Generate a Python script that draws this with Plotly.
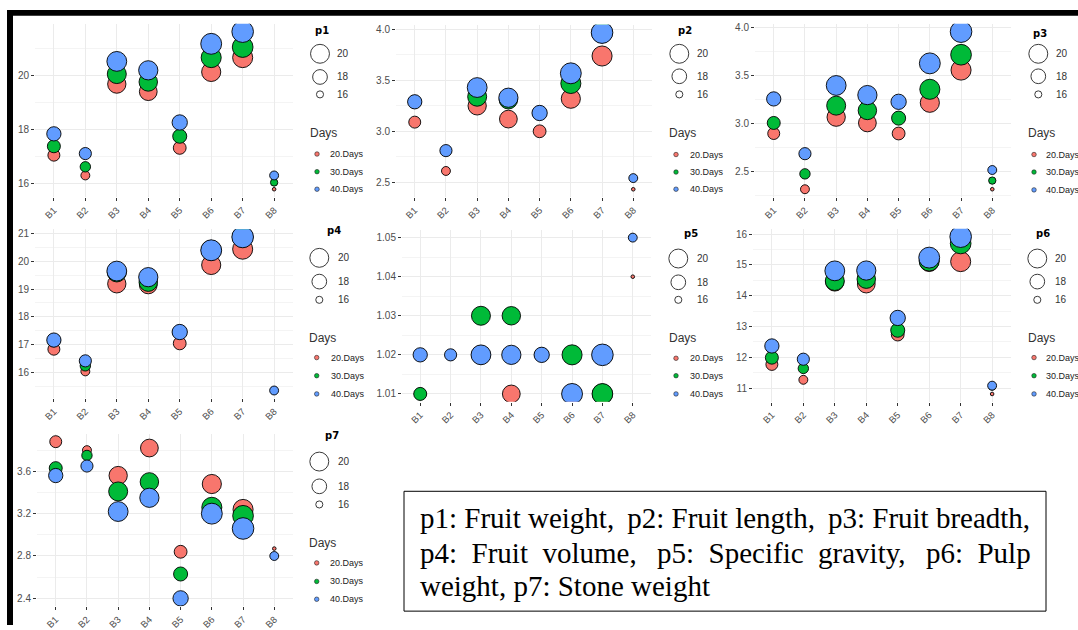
import numpy as np
import plotly.graph_objects as go

W, H = 1078, 630

categories = ["B1", "B2", "B3", "B4", "B5", "B6", "B7", "B8"]
day_labels = ["20.Days", "30.Days", "40.Days"]
day_colors = ["#F8766D", "#00BA38", "#619CFF"]
size_breaks = [20, 18, 16]
panel_names = ["p1", "p2", "p3", "p4", "p5", "p6", "p7"]

# p1: Fruit weight
p1_d20 = [17.04, 16.29, 19.67, 19.39, 17.31, 20.12, 20.65, 15.78]
p1_d30 = [17.37, 16.61, 20.04, 19.75, 17.74, 20.65, 21.04, 16.03]
p1_d40 = [17.83, 17.10, 20.51, 20.18, 18.25, 21.16, 21.61, 16.29]
# p2: Fruit length
p2_d20 = [3.09, 2.61, 3.25, 3.12, 3.00, 3.32, 3.74, 2.43]
p2_d30 = [3.29, 2.81, 3.34, 3.31, 3.18, 3.47, 3.97, 2.54]
p2_d40 = [3.29, 2.81, 3.43, 3.33, 3.18, 3.57, 3.97, 2.54]
# p3: Fruit breadth
p3_d20 = [2.90, 2.32, 3.07, 3.01, 2.90, 3.22, 3.56, 2.32]
p3_d30 = [3.01, 2.48, 3.19, 3.14, 3.06, 3.36, 3.72, 2.41]
p3_d40 = [3.26, 2.69, 3.40, 3.30, 3.23, 3.63, 3.96, 2.52]
# p4: Fruit volume
p4_d20 = [16.83, 16.03, 19.19, 19.15, 17.04, 19.87, 20.44, 15.34]
p4_d30 = [17.15, 16.23, 19.60, 19.25, 17.45, 20.40, 20.88, 15.34]
p4_d40 = [17.16, 16.41, 19.65, 19.43, 17.45, 20.40, 20.88, 15.34]
# p5: Specific gravity
p5_d20 = [1.01, 1.02, 1.02, 1.01, 1.02, 1.01, 1.01, 1.04]
p5_d30 = [1.01, 1.02, 1.03, 1.03, 1.02, 1.02, 1.01, 1.05]
p5_d40 = [1.02, 1.02, 1.02, 1.02, 1.02, 1.01, 1.02, 1.05]
# p6: Pulp weight
p6_d20 = [11.77, 11.27, 14.45, 14.38, 12.74, 15.10, 15.11, 10.81]
p6_d30 = [11.99, 11.64, 14.48, 14.54, 12.88, 15.13, 15.70, 11.05]
p6_d40 = [12.37, 11.94, 14.81, 14.82, 13.28, 15.24, 15.92, 11.08]
# p7: Stone weight
p7_d20 = [3.88, 3.80, 3.56, 3.82, 2.84, 3.48, 3.24, 2.87]
p7_d30 = [3.63, 3.75, 3.41, 3.50, 2.63, 3.26, 3.18, 2.80]
p7_d40 = [3.56, 3.65, 3.22, 3.35, 2.40, 3.20, 3.06, 2.80]

caption_lines = [
    "p1: Fruit weight,\u2009 p2: Fruit length,\u2009 p3: Fruit breadth,",
    "p4:\u00a0 Fruit\u00a0 volume,\u00a0\u2009 p5:\u00a0 Specific\u00a0 gravity,\u00a0\u2009 p6:\u00a0 Pulp",
    "weight, p7: Stone weight",
]

panels = {
    "p1": [p1_d20, p1_d30, p1_d40],
    "p2": [p2_d20, p2_d30, p2_d40],
    "p3": [p3_d20, p3_d30, p3_d40],
    "p4": [p4_d20, p4_d30, p4_d40],
    "p5": [p5_d20, p5_d30, p5_d40],
    "p6": [p6_d20, p6_d30, p6_d40],
    "p7": [p7_d20, p7_d30, p7_d40],
}

# bubble size is mapped to fruit weight (p1) in every panel, ggplot-like area scale
size_src = np.array(panels["p1"], dtype=float)
smin, smax = size_src.min(), size_src.max()


def size_px(v):
    r = np.clip((np.asarray(v, dtype=float) - smin) / (smax - smin), 0, 1)
    return 3.6 * (1 + 5 * np.sqrt(r))


def px(x):
    return x / W


def py(y):
    return 1 - y / H


# panel boxes in pixels: left, right, top, bottom
boxes = {
    "p1": (35, 293, 23, 198),
    "p2": (396, 652, 24, 198),
    "p3": (755, 1011, 23, 198),
    "p4": (35, 293, 230.5, 401),
    "p5": (402, 651, 231, 404.6),
    "p6": (753, 1011, 230, 404.7),
    "p7": (37, 293, 437, 611),
}
# major dtick, minor dtick, format
tick_cfg = {
    "p1": (2, 1, ".0f"),
    "p2": (0.5, 0.25, ".1f"),
    "p3": (0.5, 0.25, ".1f"),
    "p4": (1, 0.5, ".0f"),
    "p5": (0.01, 0.005, ".2f"),
    "p6": (1, 0.5, ".0f"),
    "p7": (0.4, 0.2, ".1f"),
}

legend_pos = {
    "p1": dict(title=(313, 29.5), cx=320, cy=(53.3, 76.7, 94.3), lx=335, days=(308, 133.3), dx=317, dy=(154.5, 172.3, 190), dlx=328),
    "p2": dict(title=(676, 30), cx=679.3, cy=(53.3, 76, 94.3), lx=695, days=(667, 133.3), dx=676, dy=(155, 172.7, 190), dlx=688),
    "p3": dict(title=(1030.7, 32.7), cx=1038.3, cy=(53.3, 76, 94.3), lx=1054, days=(1026, 133.3), dx=1034, dy=(155, 172.7, 190.7), dlx=1044),
    "p4": dict(title=(325, 231.7), cx=319.3, cy=(259.3, 283.3, 301.7), lx=336, days=(307.3, 340.7), dx=316.7, dy=(360, 378.3, 396.7), dlx=329.3),
    "p5": dict(title=(681.7, 235), cx=678.3, cy=(260, 284, 301.7), lx=695, days=(666.7, 340.7), dx=676, dy=(360.7, 378.3, 396.7), dlx=688.3),
    "p6": dict(title=(1034, 235), cx=1037.3, cy=(260, 283.3, 301.7), lx=1053.3, days=(1026, 340), dx=1034, dy=(360, 378.3, 396.7), dlx=1044),
    "p7": dict(title=(323.3, 438.3), cx=319.3, cy=(465, 490, 508.3), lx=336, days=(307.3, 547.3), dx=316.7, dy=(567.3, 586, 604), dlx=328.3),
}

GRID = "#ebebeb"
MINOR = "#f4f4f4"
TXT = "#4d4d4d"
FONT = "Liberation Sans, Arial, sans-serif"

fig = go.Figure()
layout = dict(
    width=W, height=H, margin=dict(l=0, r=0, t=0, b=0),
    paper_bgcolor="white", plot_bgcolor="white", showlegend=False,
    font=dict(family=FONT, color=TXT),
)
shapes = []
annotations = []

for i, name in enumerate(panel_names):
    k = "" if i == 0 else str(i + 1)
    l, r, t, b = boxes[name]
    vals = np.array(panels[name], dtype=float)
    lo, hi = vals.min(), vals.max()
    pad = 0.05 * (hi - lo)
    major, minor, fmt = tick_cfg[name]
    layout[f"xaxis{k}"] = dict(
        domain=[px(l), px(r)], anchor=f"y{k}", type="category",
        categoryorder="array", categoryarray=categories, range=[-0.6, 7.6],
        showgrid=True, gridcolor=GRID, gridwidth=1.1, zeroline=False, showline=False,
        ticks="outside", ticklen=3, tickwidth=1, tickcolor="#333333",
        tickangle=-45, tickfont=dict(size=9.5, color=TXT), fixedrange=True,
    )
    layout[f"yaxis{k}"] = dict(
        domain=[py(b), py(t)], anchor=f"x{k}", range=[lo - pad, hi + pad],
        tick0=0, dtick=major, tickformat=fmt,
        showgrid=True, gridcolor=GRID, gridwidth=1.1, zeroline=False, showline=False,
        ticks="outside", ticklen=3, tickwidth=1, tickcolor="#333333",
        tickfont=dict(size=10, color=TXT), fixedrange=True,
        minor=dict(tick0=0, dtick=minor, showgrid=True, gridcolor=MINOR, gridwidth=0.7, ticks=""),
    )
    for j in range(3):
        fig.add_trace(go.Scatter(
            x=categories, y=panels[name][j], mode="markers",
            xaxis=f"x{k}", yaxis=f"y{k}", name=day_labels[j],
            marker=dict(size=size_px(panels["p1"][j]), color=day_colors[j],
                        line=dict(color="black", width=0.9), opacity=1),
            showlegend=False,
        ))

    # legend drawn with shapes + annotations
    lp = legend_pos[name]
    annotations.append(dict(
        text=f"<b>{name}</b>", x=px(lp["title"][0]), y=py(lp["title"][1]),
        xref="paper", yref="paper", xanchor="left", yanchor="middle", showarrow=False,
        font=dict(size=10, color="black", family="DejaVu Sans, sans-serif"),
    ))
    for sb, cyv in zip(size_breaks, lp["cy"]):
        d = float(size_px(sb))
        shapes.append(dict(
            type="circle", xref="paper", yref="paper", xsizemode="pixel", ysizemode="pixel",
            xanchor=px(lp["cx"]), yanchor=py(cyv), x0=-d / 2, x1=d / 2, y0=-d / 2, y1=d / 2,
            line=dict(color="#3a3a3a", width=1), fillcolor="white",
        ))
        annotations.append(dict(
            text=str(sb), x=px(lp["lx"]), y=py(cyv), xref="paper", yref="paper",
            xanchor="left", yanchor="middle", showarrow=False,
            font=dict(size=10, color="#333333"),
        ))
    annotations.append(dict(
        text="Days", x=px(lp["days"][0]), y=py(lp["days"][1]), xref="paper", yref="paper",
        xanchor="left", yanchor="middle", showarrow=False,
        font=dict(size=12, color="#333333"),
    ))
    for lab, col, dyv in zip(day_labels, day_colors, lp["dy"]):
        d = 4.5
        shapes.append(dict(
            type="circle", xref="paper", yref="paper", xsizemode="pixel", ysizemode="pixel",
            xanchor=px(lp["dx"]), yanchor=py(dyv), x0=-d / 2, x1=d / 2, y0=-d / 2, y1=d / 2,
            line=dict(color="#222222", width=0.6), fillcolor=col,
        ))
        annotations.append(dict(
            text=lab, x=px(lp["dlx"]), y=py(dyv), xref="paper", yref="paper",
            xanchor="left", yanchor="middle", showarrow=False,
            font=dict(size=9, color="#222222"),
        ))

# outer black frame (top and left)
shapes.append(dict(type="rect", xref="paper", yref="paper", x0=px(7), x1=1, y0=py(15), y1=py(9),
                   fillcolor="black", line=dict(width=0)))
shapes.append(dict(type="rect", xref="paper", yref="paper", x0=px(7), x1=px(13), y0=0, y1=py(9),
                   fillcolor="black", line=dict(width=0)))

# caption box
shapes.append(dict(type="rect", xref="paper", yref="paper", x0=px(404), x1=px(1046),
                   y0=py(616), y1=py(495), line=dict(color="black", width=1),
                   fillcolor="rgba(0,0,0,0)"))
for line, yv in zip(caption_lines, [522, 557, 591]):
    annotations.append(dict(
        text=line, x=px(418), y=py(yv), xref="paper", yref="paper",
        xanchor="left", yanchor="middle", showarrow=False,
        font=dict(size=29, color="black", family="Liberation Serif, Times New Roman, serif"),
    ))

layout["shapes"] = shapes
layout["annotations"] = annotations
fig.update_layout(**layout)
fig.write_html(
    "out.html",
    config={"displayModeBar": False},
    post_script="document.body.style.margin='0';document.body.style.padding='0';document.body.style.overflow='hidden';",
)
